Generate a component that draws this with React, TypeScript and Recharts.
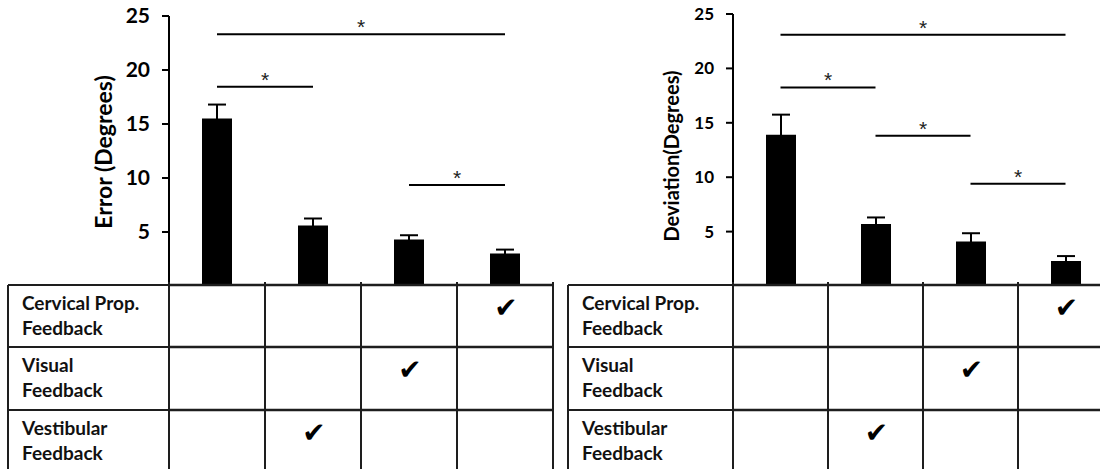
import { BarChart, Bar, XAxis, YAxis, ErrorBar, ReferenceLine } from "recharts";

// conditions (columns of the table under the bars)
const conditions = ["None", "Vestibular", "Visual", "Cervical"];
const feedbackRows = [
  ["Cervical Prop.", "Feedback"],
  ["Visual", "Feedback"],
  ["Vestibular", "Feedback"],
];
// which feedback row is ticked for each condition (-1 = none)
const checkedRow = [-1, 2, 1, 0];

const errorMeans = [15.5, 5.6, 4.3, 3.0];
const errorSE = [1.3, 0.65, 0.4, 0.37];
const deviationMeans = [13.9, 5.7, 4.1, 2.3];
const deviationSE = [1.85, 0.6, 0.75, 0.45];
const yTicks = [5, 10, 15, 20, 25];

const errorBrackets = [
  { from: "None", to: "Cervical", y: 23.3 },
  { from: "None", to: "Vestibular", y: 18.45 },
  { from: "Visual", to: "Cervical", y: 9.35 },
];
const deviationBrackets = [
  { from: "None", to: "Cervical", y: 23.1 },
  { from: "None", to: "Vestibular", y: 18.25 },
  { from: "Vestibular", to: "Visual", y: 13.8 },
  { from: "Visual", to: "Cervical", y: 9.4 },
];

const W = 560;
const H = 469;
const AXIS_H = 183;
const TABLE_TOP = 285;
const ROW_H = [62, 63, 63];
const LABEL_LEFT = 8;
const LINE = "#1e1e1e";

function Star(props: any) {
  const vb = props.viewBox || {};
  const x1 = vb.x1 ?? vb.x;
  const x2 = vb.x2 ?? vb.x + (vb.width || 0);
  const y = vb.y1 ?? vb.y;
  return (
    <text x={(x1 + x2) / 2} y={y} textAnchor="middle" fontSize={21} fontFamily="Liberation Sans" fill="#222">
      *
    </text>
  );
}

function TableTick(props: any) {
  const { x, index, cellW } = props;
  const left = x - cellW / 2;
  const right = x + cellW / 2;
  const tops = [TABLE_TOP, TABLE_TOP + ROW_H[0], TABLE_TOP + ROW_H[0] + ROW_H[1]];
  const row = checkedRow[index];
  return (
    <g>
      {index === 0 && (
        <g>
          <line x1={LABEL_LEFT} y1={TABLE_TOP} x2={LABEL_LEFT} y2={H} stroke={LINE} strokeWidth={2} />
          {tops.map((t) => (
            <line key={t} x1={LABEL_LEFT} y1={t} x2={left} y2={t} stroke={LINE} strokeWidth={2} />
          ))}
          {feedbackRows.map((r, i) =>
            r.map((s, j) => (
              <text key={i + "-" + j} x={LABEL_LEFT + 14} y={tops[i] + 25 + j * 25} fontSize={19} fontWeight={700} fill="#111">
                {s}
              </text>
            ))
          )}
        </g>
      )}
      <line x1={left} y1={TABLE_TOP - 3} x2={left} y2={H} stroke={LINE} strokeWidth={2} />
      <line x1={right} y1={TABLE_TOP - 3} x2={right} y2={H} stroke={LINE} strokeWidth={2} />
      {tops.map((t) => (
        <line key={t} x1={left} y1={t} x2={right} y2={t} stroke={LINE} strokeWidth={2.5} />
      ))}
      {row >= 0 && (
        <text x={x + 1} y={tops[row] + 32} textAnchor="middle" fontSize={28} fontFamily="DejaVu Sans" fill="#000">
          ✔
        </text>
      )}
    </g>
  );
}

interface PanelProps {
  means: number[];
  se: number[];
  brackets: { from: string; to: string; y: number }[];
  title: string;
  titleX: number;
  titleY: number;
  titleSize: number;
  tickFont: number;
  top: number;
  axisW: number;
}

function Panel({ means, se, brackets, title, titleX, titleY, titleSize, tickFont, top, axisW }: PanelProps) {
  const data = conditions.map((c, i) => ({ cond: c, mean: means[i], se: se[i] }));
  const cellW = (W - 7 - axisW) / conditions.length;
  const renderTitle = () => (
    <text
      x={titleX}
      y={titleY}
      transform={`rotate(-90 ${titleX} ${titleY})`}
      textAnchor="middle"
      fontSize={titleSize}
      fontWeight={700}
      fill="#000"
    >
      {title}
    </text>
  );
  return (
    <BarChart width={W} height={H} data={data} margin={{ top, right: 7, left: 0, bottom: 0 }}>
      <XAxis
        dataKey="cond"
        height={AXIS_H}
        axisLine={false}
        tickLine={false}
        interval={0}
        tick={(p: any) => <TableTick {...p} cellW={cellW} />}
      />
      <YAxis
        width={axisW}
        domain={[0, 25]}
        ticks={yTicks}
        interval={0}
        tickSize={7}
        tickMargin={12}
        axisLine={{ stroke: "#000", strokeWidth: 2 }}
        tickLine={{ stroke: "#000", strokeWidth: 2 }}
        tick={{ fontSize: tickFont, fontWeight: 700, fill: "#000" }}
        label={renderTitle}
      />
      <Bar dataKey="mean" fill="#000" barSize={30} isAnimationActive={false}>
        <ErrorBar dataKey="se" width={9} strokeWidth={2} stroke="#000" isAnimationActive={false} />
      </Bar>
      {brackets.map((b, i) => (
        <ReferenceLine
          key={i}
          segment={[
            { x: b.from, y: b.y },
            { x: b.to, y: b.y },
          ]}
          stroke="#000"
          strokeWidth={2}
          ifOverflow="visible"
          label={<Star />}
        />
      ))}
    </BarChart>
  );
}

export default function App() {
  return (
    <div style={{ position: "absolute", left: 0, top: 0, width: 1100, height: H, overflow: "hidden", background: "#fff", fontFamily: "Lato" }}>
      <div style={{ position: "absolute", left: 0, top: 0 }}>
        <Panel
          means={errorMeans}
          se={errorSE}
          brackets={errorBrackets}
          title="Error (Degrees)"
          titleX={112}
          titleY={152}
          titleSize={23}
          tickFont={21}
          top={16}
          axisW={169}
        />
      </div>
      <div style={{ position: "absolute", left: 560, top: 0 }}>
        <Panel
          means={deviationMeans}
          se={deviationSE}
          brackets={deviationBrackets}
          title="Deviation(Degrees)"
          titleX={119}
          titleY={156}
          titleSize={20}
          tickFont={17}
          top={14}
          axisW={173}
        />
      </div>
    </div>
  );
}
